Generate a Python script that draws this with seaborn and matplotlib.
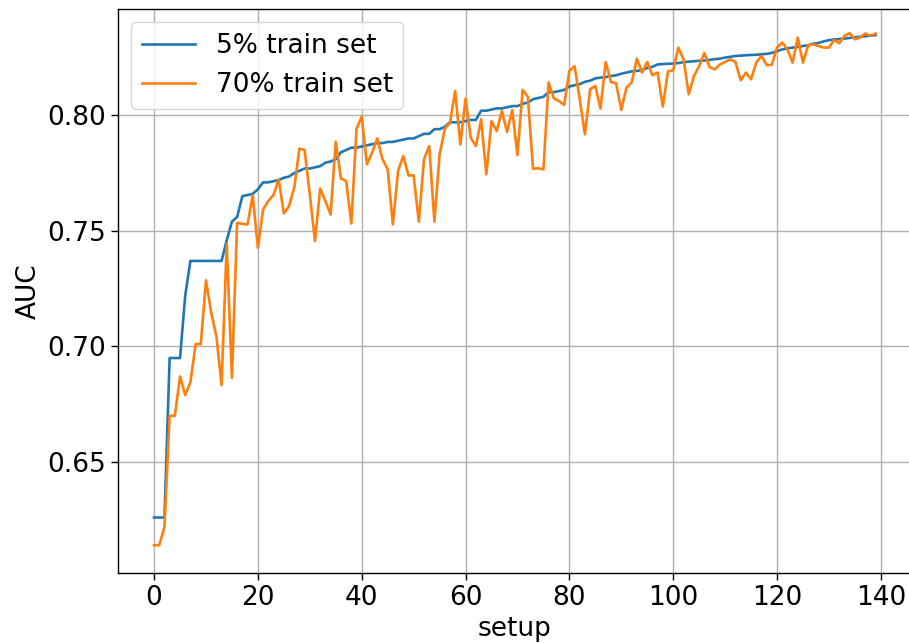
import numpy as np
import pandas as pd
import matplotlib
matplotlib.use("Agg")
import matplotlib.pyplot as plt
import seaborn as sns

# AUC per setup for the two training-set sizes
auc_5pct = [
    0.626, 0.626, 0.626, 0.695, 0.695, 0.695, 0.722, 0.737, 0.737, 0.737,
    0.737, 0.737, 0.737, 0.737, 0.746, 0.754, 0.756, 0.765, 0.7655, 0.766,
    0.768, 0.771, 0.771, 0.7715, 0.772, 0.773, 0.7735, 0.775, 0.776, 0.777,
    0.777, 0.7775, 0.778, 0.7795, 0.780, 0.781, 0.784, 0.785, 0.786, 0.786,
    0.7865, 0.787, 0.7875, 0.788, 0.788, 0.7885, 0.7885, 0.789, 0.7895, 0.790,
    0.790, 0.791, 0.792, 0.792, 0.794, 0.794, 0.795, 0.797, 0.797, 0.797,
    0.7975, 0.798, 0.798, 0.802, 0.802, 0.8025, 0.803, 0.803, 0.8035, 0.804,
    0.804, 0.805, 0.8055, 0.807, 0.8075, 0.808, 0.810, 0.810, 0.8105, 0.811,
    0.8125, 0.813, 0.8135, 0.8145, 0.815, 0.816, 0.8163, 0.8165, 0.817, 0.8173,
    0.818, 0.8185, 0.819, 0.8192, 0.8196, 0.8205, 0.821, 0.822, 0.8222, 0.8223,
    0.8224, 0.8226, 0.823, 0.8232, 0.8234, 0.8236, 0.8237, 0.824, 0.8243, 0.8245,
    0.825, 0.8253, 0.8257, 0.8258, 0.826, 0.8261, 0.8262, 0.8264, 0.8266, 0.827,
    0.8278, 0.8285, 0.829, 0.8293, 0.8296, 0.830, 0.8303, 0.831, 0.8313, 0.832,
    0.8325, 0.8328, 0.833, 0.8332, 0.8335, 0.8337, 0.834, 0.8342, 0.8345, 0.8347,
]

auc_70pct = [
    0.614, 0.614, 0.622, 0.670, 0.670, 0.687, 0.679, 0.6845, 0.701, 0.701,
    0.7286, 0.7147, 0.7045, 0.6833, 0.7442, 0.6864, 0.7535, 0.753, 0.7528, 0.7654,
    0.7427, 0.7593, 0.7629, 0.7655, 0.7723, 0.7576, 0.7607, 0.7687, 0.7856, 0.785,
    0.7658, 0.7456, 0.7684, 0.7629, 0.7571, 0.7886, 0.7727, 0.7716, 0.7532, 0.7942,
    0.7994, 0.7788, 0.7838, 0.790, 0.781, 0.7766, 0.7528, 0.7759, 0.7824, 0.774,
    0.774, 0.754, 0.781, 0.7867, 0.754, 0.7831, 0.794, 0.7968, 0.8105, 0.7874,
    0.8072, 0.7903, 0.7867, 0.7983, 0.7745, 0.7975, 0.7932, 0.8019, 0.7928, 0.8023,
    0.7828, 0.811, 0.8081, 0.7769, 0.7771, 0.7766, 0.8142, 0.8074, 0.8062, 0.8045,
    0.8192, 0.8213, 0.807, 0.7918, 0.8113, 0.8127, 0.8029, 0.8231, 0.8144, 0.8139,
    0.8023, 0.812, 0.8142, 0.8245, 0.8185, 0.8231, 0.8173, 0.8185, 0.8038, 0.819,
    0.8195, 0.8293, 0.8242, 0.8091, 0.817, 0.8213, 0.827, 0.8209, 0.8199, 0.822,
    0.8231, 0.8242, 0.8231, 0.8152, 0.8185, 0.8156, 0.8228, 0.8257, 0.8218, 0.8218,
    0.8293, 0.8315, 0.8286, 0.8228, 0.8336, 0.8228, 0.8303, 0.8307, 0.830, 0.8293,
    0.8293, 0.8326, 0.8312, 0.8344, 0.8355, 0.8329, 0.8336, 0.8354, 0.8344, 0.8354,
]

series_labels = ["5% train set", "70% train set"]
setup = np.arange(len(auc_5pct))

df = pd.DataFrame({
    "setup": np.concatenate([setup, setup]),
    "AUC": np.concatenate([auc_5pct, auc_70pct]),
    "series": [series_labels[0]] * len(setup) + [series_labels[1]] * len(setup),
})

plt.rcParams["font.family"] = ["DejaVu Sans"]
plt.rcParams["font.size"] = 19

fig = plt.figure(figsize=(9.09, 6.43), dpi=100)
ax = fig.add_axes([0.1298, 0.1089, 0.8732, 0.8771])

sns.lineplot(data=df, x="setup", y="AUC", hue="series",
             palette=["#1f77b4", "#ff7f0e"], linewidth=1.9, ax=ax,
             legend=False)

ax.set_xticks([0, 20, 40, 60, 80, 100, 120, 140])
ax.set_yticks([0.65, 0.70, 0.75, 0.80])
ax.set_yticklabels(["0.65", "0.70", "0.75", "0.80"])
ax.set_xlim(-6.95, 145.95)
ax.set_ylim(0.602, 0.846)
ax.grid(True, color="#b0b0b0", linewidth=1.0)
ax.set_axisbelow(True)
for sp in ax.spines.values():
    sp.set_color("black")
    sp.set_linewidth(1.0)
ax.tick_params(axis="both", length=5, width=1.0, labelsize=19)
ax.set_xlabel("setup", fontsize=19, labelpad=4)
ax.set_ylabel("AUC", fontsize=19)

ax.legend(ax.get_lines()[:2], series_labels, loc="upper left", fontsize=19,
          framealpha=0.8, edgecolor="#cccccc")

fig.savefig("out.png", dpi=100)
